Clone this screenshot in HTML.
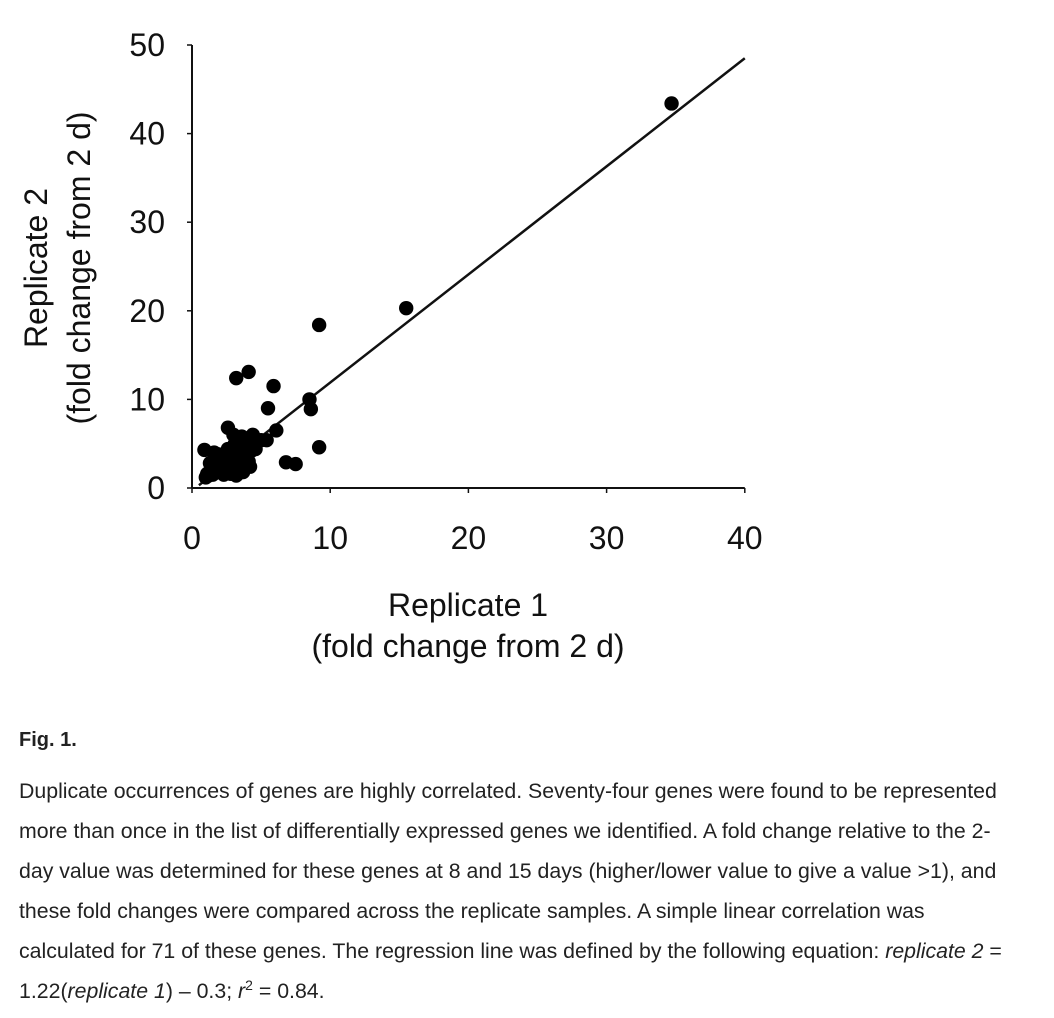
<!DOCTYPE html>
<html><head><meta charset="utf-8"><style>
body{margin:0;background:#fff;width:1054px;height:1018px;overflow:hidden;font-family:"Liberation Sans",sans-serif;}
.cap{position:absolute;left:19px;color:#222;font-size:21.3px;white-space:nowrap;}
sup{line-height:0;font-size:14px;}
</style></head><body>
<svg width="1054" height="700" style="position:absolute;left:0;top:0" font-family="Liberation Sans, sans-serif">
<g id="axes"></g><g id="marks"></g>
<text x="468" y="616" font-size="32" text-anchor="middle" fill="#111">Replicate 1</text>
<text x="468" y="657" font-size="32" text-anchor="middle" fill="#111">(fold change from 2 d)</text>
<text transform="translate(47,268) rotate(-90)" font-size="32" text-anchor="middle" fill="#111">Replicate 2</text>
<text transform="translate(90,268) rotate(-90)" font-size="32" text-anchor="middle" fill="#111">(fold change from 2 d)</text>
</svg>
<div class="cap" style="top:729px;font-weight:bold;font-size:20px">Fig. 1.</div>
<div class="cap" style="top:771px;line-height:40px">Duplicate occurrences of genes are highly correlated. Seventy-four genes were found to be represented<br>more than once in the list of differentially expressed genes we identified. A fold change relative to the 2-<br>day value was determined for these genes at 8 and 15 days (higher/lower value to give a value &gt;1), and<br>these fold changes were compared across the replicate samples. A simple linear correlation was<br>calculated for 71 of these genes. The regression line was defined by the following equation: <i>replicate 2</i> =<br>1.22(<i>replicate 1</i>) – 0.3; <i>r</i><sup>2</sup> = 0.84.</div>
<script>
const xTicks=[0,10,20,30,40];
const yTicks=[0,10,20,30,40,50];
const xVals=[34.7,15.5,9.2,3.2,4.1,5.9,5.5,8.5,8.6,9.2,6.8,7.5,6.1,5.4,2.6,0.9,
1.0,1.2,1.4,1.5,1.6,1.8,2.0,2.2,2.4,1.3,1.7,2.1,2.5,2.8,3.0,3.2,3.4,3.6,3.8,4.0,4.2,4.4,3.1,3.5,3.9,4.3,2.9,3.3,3.7,4.1,2.7,3.0,3.6,4.0,1.9,2.3,2.6,3.4,3.8,4.5,1.1,1.5,2.0,2.8,3.2,3.6,4.2,1.6,2.4,3.1,3.9,5.0,4.6,2.2,3.5];
const yVals=[43.4,20.3,18.4,12.4,13.1,11.5,9.0,10.0,8.9,4.6,2.9,2.7,6.5,5.4,6.8,4.3,
1.2,1.4,1.6,1.5,2.0,1.8,2.2,2.6,2.4,2.8,3.0,3.4,1.8,2.2,3.0,3.6,4.0,4.4,4.8,5.2,5.6,6.0,5.0,2.5,3.2,4.2,4.0,2.0,1.8,3.0,3.2,6.0,5.8,2.5,3.8,1.5,4.4,5.4,3.6,4.8,1.6,2.4,2.9,1.6,1.4,1.8,2.4,4.0,2.0,2.6,3.0,5.4,4.4,3.5,3.8];
const slope=1.22, intercept=-0.3;
const X=v=>192+v*13.82, Y=v=>488-v*8.86;
const NS='http://www.w3.org/2000/svg';
const ax=document.getElementById('axes'), mk=document.getElementById('marks');
function mkEl(t,a,p){const e=document.createElementNS(NS,t);for(const k in a)e.setAttribute(k,a[k]);p.appendChild(e);return e;}
const xl=mkEl('line',{x1:X(0),y1:Y(0),x2:X(40),y2:Y(0),stroke:'#111','stroke-width':2},ax);


const yl=mkEl('line',{x1:X(0),y1:Y(0),x2:X(0),y2:Y(50),stroke:'#111','stroke-width':2},ax);


xTicks.forEach(t=>{
 mkEl('line',{x1:X(t),y1:Y(0),x2:X(t),y2:Y(0)+5,stroke:'#111','stroke-width':1.5},ax);
 const tx=mkEl('text',{x:X(t),y:549,'font-size':32,'text-anchor':'middle',fill:'#111'},ax);
 tx.textContent=t;
 
 
});
yTicks.forEach(t=>{
 mkEl('line',{x1:X(0)-5,y1:Y(t),x2:X(0),y2:Y(t),stroke:'#111','stroke-width':1.5},ax);
 const tx=mkEl('text',{x:165,y:Y(t)+11,'font-size':32,'text-anchor':'end',fill:'#111'},ax);
 tx.textContent=t;
 
 
});
const rl=mkEl('line',{x1:X(0.5),y1:Y(slope*0.5+intercept),x2:X(40),y2:Y(slope*40+intercept),stroke:'#111','stroke-width':2.5},mk);


xVals.forEach((v,i)=>{
 const c=mkEl('circle',{cx:X(v),cy:Y(yVals[i]),r:7.2,fill:'#000'},mk);
 
 
});
</script>
</body></html>
